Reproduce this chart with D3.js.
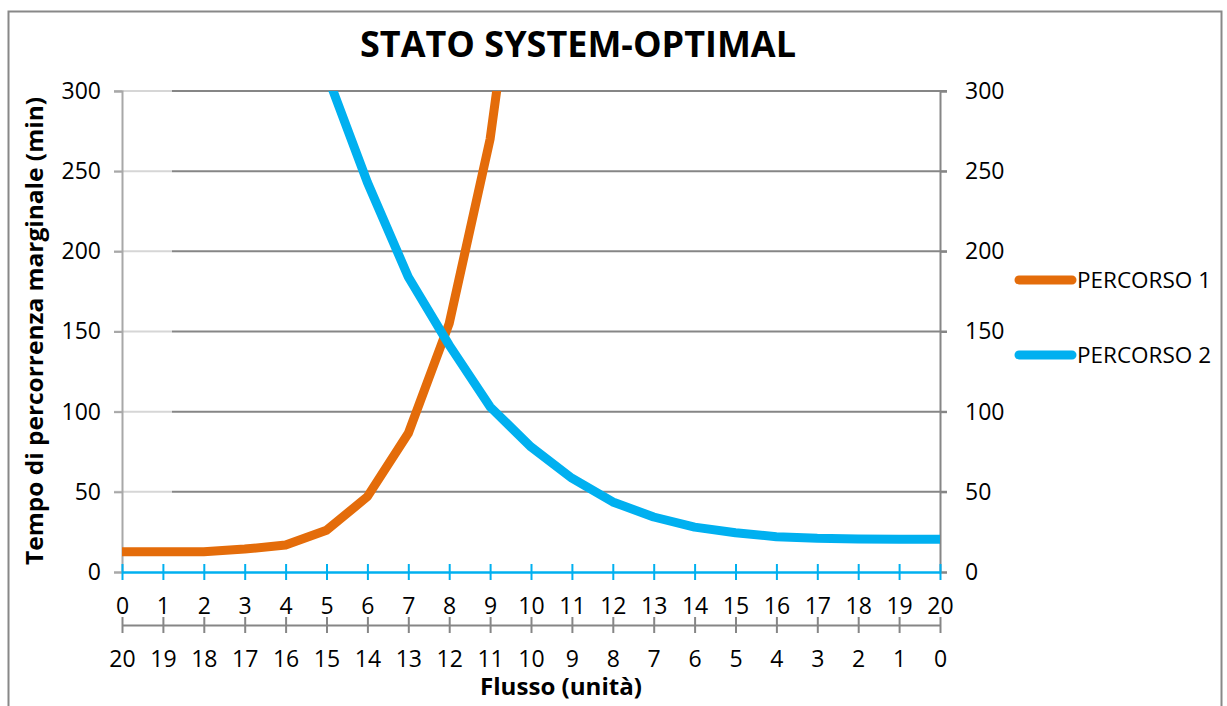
<!DOCTYPE html>
<html lang="it">
<head>
<meta charset="UTF-8">
<title>Stato System-Optimal</title>
<script src="https://d3js.org/d3.v7.min.js"></script>
<style>
  body { margin: 0; background: #fff; }
  text { font-family: "Open Sans", "Noto Sans", sans-serif; fill: #000; }
</style>
</head>
<body>
<svg width="1227" height="706"></svg>
<script>
// flow values on the two x axes
const flussoP1 = [0, 1, 2, 3, 4, 5, 6, 7, 8, 9, 10, 11, 12, 13, 14, 15, 16, 17, 18, 19, 20];
const flussoP2 = [20, 19, 18, 17, 16, 15, 14, 13, 12, 11, 10, 9, 8, 7, 6, 5, 4, 3, 2, 1, 0];
const yTicks = [0, 50, 100, 150, 200, 250, 300];

// marginal travel time (points above 300 are clipped)
const xP1 = [0, 1, 2, 3, 4, 5, 6, 7, 8, 9, 10];
const tempoP1 = [12.7, 12.7, 12.7, 14.3, 16.8, 26, 47, 86.5, 155, 270, 457];
const xP2 = [5, 6, 7, 8, 9, 10, 11, 12, 13, 14, 15, 16, 17, 18, 19, 20];
const tempoP2 = [311, 243, 184, 141.5, 103, 78, 58.5, 43.7, 34.3, 28, 24.5, 22, 21, 20.6, 20.5, 20.5];

const series = [
  {name: "PERCORSO 1", color: "#e46c0a", pts: xP1.map((x, i) => [x, tempoP1[i]])},
  {name: "PERCORSO 2", color: "#00b0f0", pts: xP2.map((x, i) => [x, tempoP2[i]])}
];

const svg = d3.select("svg");
const plot = {left: 122, right: 940, top: 91, bottom: 572};

const x = d3.scaleLinear().domain([0, 20]).range([plot.left, plot.right]);
const y = d3.scaleLinear().domain([0, 300]).range([plot.bottom, plot.top]);

// outer frame
svg.append("rect")
  .attr("x", 8.5).attr("y", 11.5).attr("width", 1213).attr("height", 710)
  .attr("fill", "none").attr("stroke", "#888").attr("stroke-width", 2);

// title
svg.append("text")
  .attr("x", 578).attr("y", 57)
  .attr("text-anchor", "middle")
  .attr("font-size", 35).attr("font-weight", "bold")
  .attr("textLength", 436).attr("lengthAdjust", "spacingAndGlyphs")
  .text("STATO SYSTEM-OPTIMAL");

// gridlines
const grid = svg.append("g");
yTicks.filter(t => t > 0).forEach(t => {
  grid.append("line")
    .attr("x1", plot.left - 8).attr("x2", 172)
    .attr("y1", y(t)).attr("y2", y(t))
    .attr("stroke", "#d6d6d6").attr("stroke-width", 2);
  grid.append("line")
    .attr("x1", 172).attr("x2", plot.right + 7)
    .attr("y1", y(t)).attr("y2", y(t))
    .attr("stroke", "#868686").attr("stroke-width", 2);
});

const tickFont = sel => sel.selectAll(".tick text")
  .attr("font-size", 23)
  .attr("font-family", "Open Sans, Noto Sans, sans-serif")
  .attr("fill", "#000");

// left axis
const yLeft = svg.append("g")
  .attr("transform", `translate(${plot.left},0)`)
  .call(d3.axisLeft(y).tickValues(yTicks).tickSize(8).tickPadding(13));
yLeft.select(".domain").attr("stroke", "#a8a8a8").attr("stroke-width", 2);
yLeft.selectAll(".tick line").attr("stroke", "#a8a8a8").attr("stroke-width", 2);
tickFont(yLeft);

// right axis
const yRight = svg.append("g")
  .attr("transform", `translate(${plot.right},0)`)
  .call(d3.axisRight(y).tickValues(yTicks).tickSize(7).tickPadding(18));
yRight.select(".domain").attr("stroke", "#868686").attr("stroke-width", 2);
yRight.selectAll(".tick line").attr("stroke", "#868686").attr("stroke-width", 2);
tickFont(yRight);

// primary x axis (percorso 1 flow), blue, ticks crossing
const xMain = svg.append("g").attr("transform", `translate(0,${plot.bottom})`);
xMain.call(d3.axisBottom(x).tickValues(flussoP1).tickSize(0).tickPadding(26).tickSizeOuter(0));
xMain.select(".domain").attr("stroke", "#00b0f0").attr("stroke-width", 2.5);
xMain.selectAll(".tick line").remove();
xMain.selectAll(".tick").append("line")
  .attr("y1", -8).attr("y2", 8)
  .attr("stroke", "#00b0f0").attr("stroke-width", 2);
tickFont(xMain);

// secondary x axis (percorso 2 flow), grey
const x2 = d3.scaleLinear().domain([20, 0]).range([plot.left, plot.right]);
const xSec = svg.append("g").attr("transform", `translate(0,625)`);
xSec.call(d3.axisBottom(x2).tickValues(flussoP2).tickSize(0).tickPadding(26).tickSizeOuter(0));
xSec.select(".domain").attr("stroke", "#868686").attr("stroke-width", 2);
xSec.selectAll(".tick line").remove();
xSec.selectAll(".tick").append("line")
  .attr("y1", -8).attr("y2", 8)
  .attr("stroke", "#868686").attr("stroke-width", 2);
tickFont(xSec);

// axis titles
svg.append("text")
  .attr("x", 561).attr("y", 695)
  .attr("text-anchor", "middle")
  .attr("font-size", 24).attr("font-weight", "bold")
  .attr("textLength", 162).attr("lengthAdjust", "spacingAndGlyphs")
  .text("Flusso (unità)");

svg.append("text")
  .attr("transform", "translate(43,331) rotate(-90)")
  .attr("text-anchor", "middle")
  .attr("font-size", 23).attr("font-weight", "bold")
  .attr("textLength", 468).attr("lengthAdjust", "spacingAndGlyphs")
  .text("Tempo di percorrenza marginale (min)");

// series lines, clipped to plot area
svg.append("clipPath").attr("id", "plotclip")
  .append("rect")
  .attr("x", plot.left).attr("y", plot.top)
  .attr("width", plot.right - plot.left + 10).attr("height", plot.bottom - plot.top + 10);

const line = d3.line().x(d => x(d[0])).y(d => y(d[1]));
svg.append("g").attr("clip-path", "url(#plotclip)")
  .selectAll("path")
  .data(series)
  .join("path")
  .attr("d", d => line(d.pts))
  .attr("fill", "none")
  .attr("stroke", d => d.color)
  .attr("stroke-width", 9)
  .attr("stroke-linejoin", "round");

// legend
const legend = svg.append("g")
  .selectAll("g")
  .data(series)
  .join("g")
  .attr("transform", (d, i) => `translate(1019,${280 + i * 75})`);
legend.append("line")
  .attr("x1", 0).attr("x2", 53)
  .attr("stroke", d => d.color).attr("stroke-width", 9).attr("stroke-linecap", "round");
legend.append("text")
  .attr("x", 58).attr("y", 8)
  .attr("font-size", 22.5)
  .text(d => d.name);
</script>
</body>
</html>
